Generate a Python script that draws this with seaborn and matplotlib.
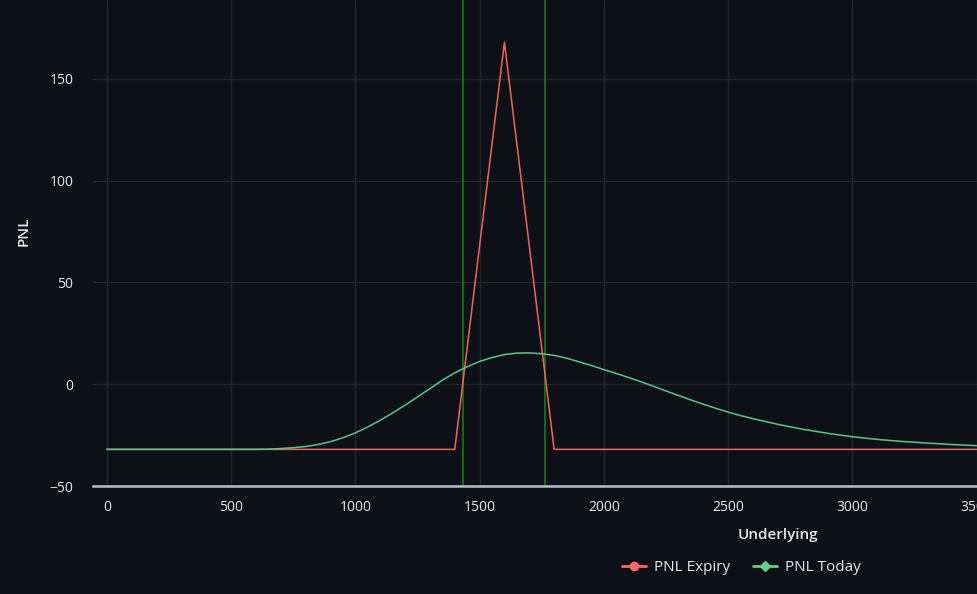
import matplotlib
matplotlib.use("Agg")
import matplotlib.pyplot as plt
from matplotlib.lines import Line2D
import seaborn as sns
import pandas as pd

# ---- data ----
expiry_underlying = [0, 1400, 1600, 1800, 3500]
expiry_pnl = [-32, -32, 168, -32, -32]

today_underlying = [0, 300, 600, 650, 700, 750, 800, 850, 900, 950, 1000, 1050,
                    1100, 1150, 1200, 1250, 1300, 1350, 1400, 1450, 1500, 1550,
                    1600, 1650, 1700, 1750, 1800, 1850, 1900, 1950, 2000, 2050,
                    2100, 2150, 2200, 2250, 2300, 2350, 2400, 2450, 2500, 2550,
                    2600, 2700, 2800, 2900, 3000, 3100, 3200, 3300, 3400, 3500]
today_pnl = [-32, -32, -32, -31.9, -31.6, -31.2, -30.6, -29.6, -28.2, -26.3,
             -23.9, -21.0, -17.7, -14.1, -10.3, -6.2, -2.2, 2.0, 5.6, 8.6,
             11.2, 13.1, 14.6, 15.3, 15.4, 15.0, 14.2, 12.8, 11.0, 9.2, 7.2,
             5.3, 3.3, 1.2, -1.0, -3.3, -5.5, -7.7, -9.8, -11.8, -13.7, -15.4,
             -16.9, -19.7, -22.1, -24.1, -25.8, -27.1, -28.1, -28.9, -29.6, -30.2]

breakevens = [1433, 1765]

x_ticks = [0, 500, 1000, 1500, 2000, 2500, 3000, 3500]
y_ticks = [-50, 0, 50, 100, 150]

BG = "#0d1117"
GRID = "#24282d"
TXT = "#e6e9ee"
RED = "#ee6461"
GREEN = "#5cc48a"
VLINE = "#1f7d1f"

sns.set_theme(style="dark")
plt.rcParams["font.family"] = ["Open Sans", "DejaVu Sans"]

fig = plt.figure(figsize=(9.78, 5.94), dpi=100, facecolor=BG)
ax = fig.add_axes([93 / 978, 108 / 594, 885 / 978, 486 / 594])
ax.set_facecolor(BG)

df_exp = pd.DataFrame({"Underlying": expiry_underlying, "PNL": expiry_pnl})
df_tod = pd.DataFrame({"Underlying": today_underlying, "PNL": today_pnl})

for b in breakevens:
    ax.axvline(b, color=VLINE, lw=1.1, zorder=2)

sns.lineplot(data=df_exp, x="Underlying", y="PNL", ax=ax, color=RED, lw=1.1,
             zorder=3, sort=False)
sns.lineplot(data=df_tod, x="Underlying", y="PNL", ax=ax, color=GREEN, lw=1.1,
             zorder=4, sort=False)

ax.set_xlim(-56, 3506)
ax.set_ylim(-50, 188.8)
ax.set_xticks(x_ticks)
ax.set_yticks(y_ticks)
ax.grid(True, color=GRID, lw=1.0)
ax.set_axisbelow(True)

for s in ["top", "right", "left"]:
    ax.spines[s].set_visible(False)
ax.spines["bottom"].set_color("#b8bfcc")
ax.spines["bottom"].set_linewidth(1.8)

ax.tick_params(axis="x", colors="#b8bfcc", length=6, width=1.2, pad=4,
               labelcolor=TXT, labelsize=10)
ax.tick_params(axis="y", length=0, pad=14, labelcolor=TXT, labelsize=10)

ax.set_xlabel("Underlying", color=TXT, fontsize=11, fontweight="semibold")
ax.set_ylabel("PNL", color=TXT, fontsize=11, fontweight="semibold")
ax.xaxis.set_label_coords(0.774, -0.086)
ax.yaxis.set_label_coords(-0.071, 0.525)

handles = [
    Line2D([0], [0], color="#f56a6a", lw=2, marker="o", markersize=6),
    Line2D([0], [0], color="#62d08f", lw=2, marker="D", markersize=5),
]
leg = fig.legend(handles, ["PNL Expiry", "PNL Today"], loc="center",
                 bbox_to_anchor=(0.758, 0.044), ncol=2, frameon=False,
                 handlelength=1.6, handletextpad=0.5, columnspacing=1.5,
                 fontsize=11)
for t in leg.get_texts():
    t.set_color(TXT)

fig.savefig("out.png", dpi=100, facecolor=BG)
